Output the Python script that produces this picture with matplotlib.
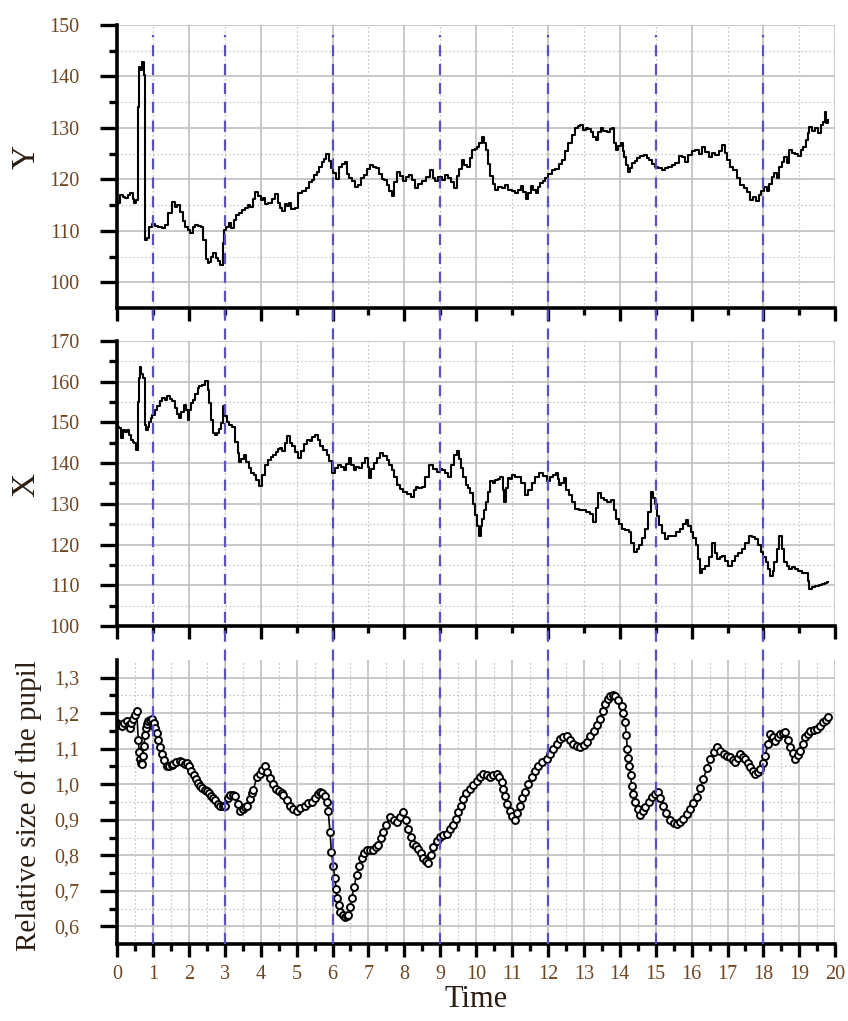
"""
Eye tracking: Y / X position and relative pupil size over time
"""
import matplotlib.pyplot as plt
from matplotlib.ticker import FixedLocator, FuncFormatter
from matplotlib.lines import Line2D
from matplotlib.transforms import blended_transform_factory

plt.rcParams['font.family'] = ['Liberation Serif', 'DejaVu Serif']

# Y coordinate of the gaze
y_time = [
    0.00, 0.04, 0.13, 0.20, 0.27, 0.34, 0.41, 0.46, 0.50, 0.57, 0.59, 0.62, 0.66, 0.71, 0.77,
    0.80, 0.87, 0.92, 1.01, 1.10, 1.20, 1.30, 1.38, 1.48, 1.57, 1.65, 1.71, 1.80, 1.87, 1.94,
    2.01, 2.08, 2.15, 2.22, 2.30, 2.36, 2.45, 2.50, 2.54, 2.59, 2.64, 2.73, 2.78, 2.82, 2.92,
    2.96, 3.01, 3.08, 3.15, 3.22, 3.29, 3.36, 3.43, 3.52, 3.61, 3.68, 3.75, 3.82, 3.89, 3.96,
    4.04, 4.10, 4.16, 4.26, 4.35, 4.44, 4.50, 4.56, 4.63, 4.70, 4.76, 4.81, 4.90, 5.00, 5.09,
    5.20, 5.32, 5.39, 5.46, 5.53, 5.60, 5.67, 5.74, 5.80, 5.86, 5.92, 5.97, 6.05, 6.13, 6.21,
    6.30, 6.39, 6.44, 6.49, 6.60, 6.68, 6.76, 6.83, 6.90, 7.00, 7.09, 7.18, 7.27, 7.34, 7.41,
    7.48, 7.55, 7.62, 7.69, 7.76, 7.83, 7.92, 8.02, 8.09, 8.16, 8.25, 8.34, 8.44, 8.53, 8.65,
    8.76, 8.83, 8.90, 9.00, 9.09, 9.18, 9.27, 9.34, 9.41, 9.50, 9.57, 9.64, 9.71, 9.78, 9.85,
    9.92, 10.00, 10.06, 10.12, 10.18, 10.24, 10.29, 10.36, 10.43, 10.50, 10.57, 10.66, 10.76,
    10.85, 10.94, 11.04, 11.13, 11.20, 11.27, 11.34, 11.41, 11.48, 11.55, 11.62, 11.69, 11.76,
    11.82, 11.90, 11.96, 12.06, 12.15, 12.25, 12.34, 12.43, 12.52, 12.62, 12.71, 12.80, 12.87,
    12.94, 13.01, 13.08, 13.15, 13.22, 13.29, 13.36, 13.43, 13.50, 13.59, 13.68, 13.75, 13.82,
    13.87, 13.92, 13.99, 14.06, 14.10, 14.15, 14.20, 14.26, 14.32, 14.38, 14.45, 14.52, 14.62,
    14.71, 14.78, 14.85, 14.94, 15.03, 15.12, 15.22, 15.31, 15.40, 15.50, 15.59, 15.68, 15.77,
    15.86, 15.96, 16.05, 16.15, 16.24, 16.33, 16.42, 16.52, 16.60, 16.70, 16.80, 16.89, 16.96,
    17.03, 17.12, 17.21, 17.30, 17.40, 17.49, 17.58, 17.67, 17.77, 17.84, 17.91, 17.98, 18.05,
    18.12, 18.19, 18.26, 18.33, 18.40, 18.47, 18.54, 18.61, 18.68, 18.75, 18.84, 18.93, 19.00,
    19.07, 19.14, 19.21, 19.26, 19.30, 19.39, 19.49, 19.56, 19.63, 19.68, 19.72, 19.77, 19.81,
]
y_pos = [
    115.0, 115.4, 117.0, 116.5, 116.3, 117.0, 117.3, 116.2, 115.4, 116.0, 134.0, 141.8, 141.2, 142.8, 140.2,
    108.3, 108.6, 110.8, 111.4, 110.9, 110.8, 110.5, 111.2, 113.4, 115.7, 114.6, 115.0, 113.7, 112.0, 110.8,
    110.2, 109.5, 110.8, 111.2, 111.0, 110.8, 108.3, 104.5, 103.7, 104.0, 105.0, 105.7, 104.8, 104.1, 103.4,
    107.6, 110.2, 110.8, 111.5, 110.5, 112.1, 113.0, 113.4, 114.0, 114.4, 115.0, 114.7, 116.2, 117.6, 116.8,
    115.9, 116.4, 115.3, 115.4, 116.1, 117.2, 115.5, 114.4, 113.9, 115.2, 114.8, 115.5, 114.3, 114.5, 117.4,
    117.8, 118.3, 119.5, 119.9, 120.8, 121.5, 122.5, 123.4, 124.0, 125.0, 123.5, 122.2, 121.2, 120.0, 122.5,
    122.9, 123.4, 121.0, 120.2, 119.6, 118.5, 119.0, 120.2, 120.9, 122.0, 122.8, 122.4, 122.2, 121.0, 120.0,
    119.8, 119.0, 117.8, 116.8, 119.5, 121.5, 120.6, 119.6, 120.5, 120.9, 119.8, 118.3, 119.2, 119.6, 120.5,
    121.8, 120.2, 119.6, 120.4, 119.9, 120.8, 120.2, 119.4, 118.3, 120.6, 122.0, 123.8, 122.8, 122.5, 124.2,
    125.7, 126.0, 126.3, 127.0, 128.2, 127.0, 125.7, 123.0, 120.6, 119.2, 118.0, 118.6, 118.3,
    118.9, 118.0, 117.8, 117.4, 118.0, 118.7, 117.5, 116.1, 117.4, 118.7, 118.0, 117.4, 118.5,
    119.3, 119.6, 120.2, 121.0, 121.8, 122.1, 123.0, 123.7, 125.5, 127.0, 128.6, 129.9, 130.4,
    130.5, 129.6, 129.9, 129.7, 129.2, 128.2, 127.6, 129.3, 129.9, 129.5, 129.2, 129.8, 129.9,
    127.0, 125.7, 126.5, 127.0, 125.5, 124.4, 122.8, 121.5, 122.3, 123.1, 123.6, 124.1, 124.5,
    124.7, 124.2, 123.7, 123.0, 122.5, 122.2, 121.8, 122.2, 122.5, 122.8, 123.1, 124.6, 124.4,
    123.4, 124.7, 125.5, 125.7, 125.0, 126.3, 125.4, 124.4, 125.2, 124.7, 125.6, 126.6, 125.2,
    123.7, 122.5, 121.8, 120.2, 118.9, 118.3, 117.6, 116.0, 116.6, 115.8, 117.0, 117.8, 118.6,
    117.8, 119.2, 120.5, 121.2, 120.3, 122.5, 123.4, 124.4, 123.2, 125.7, 125.2, 125.0, 124.6,
    125.7, 126.3, 127.6, 129.0, 130.2, 129.5, 129.9, 129.0, 130.5, 131.2, 133.1, 131.0, 131.5,
]

# X coordinate of the gaze
x_time = [
    0.00, 0.04, 0.08, 0.13, 0.20, 0.26, 0.32, 0.36, 0.41, 0.46, 0.50, 0.57, 0.60, 0.62, 0.66,
    0.70, 0.75, 0.80, 0.84, 0.88, 0.92, 0.96, 1.01, 1.08, 1.15, 1.22, 1.29, 1.36, 1.43, 1.50,
    1.57, 1.64, 1.70, 1.75, 1.82, 1.89, 1.94, 1.99, 2.04, 2.08, 2.15, 2.22, 2.27, 2.31, 2.40,
    2.50, 2.55, 2.59, 2.64, 2.68, 2.75, 2.82, 2.88, 2.92, 2.98, 3.05, 3.10, 3.15, 3.24, 3.33,
    3.38, 3.43, 3.50, 3.57, 3.63, 3.70, 3.77, 3.84, 3.92, 4.01, 4.08, 4.16, 4.24, 4.31, 4.38,
    4.45, 4.52, 4.58, 4.63, 4.70, 4.77, 4.84, 4.91, 5.00, 5.09, 5.16, 5.24, 5.32, 5.40, 5.48,
    5.56, 5.63, 5.70, 5.79, 5.88, 5.95, 6.02, 6.10, 6.21, 6.28, 6.35, 6.42, 6.49, 6.56, 6.62,
    6.70, 6.76, 6.86, 6.95, 7.00, 7.04, 7.11, 7.18, 7.28, 7.37, 7.46, 7.55, 7.62, 7.69, 7.76,
    7.83, 7.92, 8.02, 8.14, 8.25, 8.30, 8.34, 8.44, 8.53, 8.64, 8.76, 8.85, 8.95, 9.02, 9.09,
    9.18, 9.27, 9.34, 9.41, 9.50, 9.55, 9.60, 9.67, 9.74, 9.80, 9.87, 9.94, 10.01, 10.06, 10.11,
    10.15, 10.20, 10.25, 10.29, 10.36, 10.43, 10.50, 10.57, 10.64, 10.71, 10.76, 10.80, 10.85,
    10.90, 10.96, 11.03, 11.12, 11.22, 11.30, 11.41, 11.50, 11.59, 11.70, 11.82, 11.92, 12.01,
    12.10, 12.20, 12.25, 12.30, 12.34, 12.41, 12.48, 12.55, 12.62, 12.70, 12.80, 12.90, 12.99,
    13.10, 13.22, 13.31, 13.38, 13.43, 13.51, 13.59, 13.70, 13.82, 13.88, 13.92, 14.01, 14.10,
    14.20, 14.29, 14.36, 14.43, 14.50, 14.57, 14.66, 14.75, 14.82, 14.89, 14.95, 15.01, 15.06,
    15.12, 15.22, 15.31, 15.40, 15.50, 15.62, 15.73, 15.80, 15.87, 15.94, 16.01, 16.08, 16.15,
    16.20, 16.24, 16.33, 16.42, 16.52, 16.61, 16.68, 16.75, 16.82, 16.89, 16.98, 17.07, 17.16,
    17.26, 17.35, 17.45, 17.54, 17.63, 17.72, 17.82, 17.89, 17.96, 18.03, 18.10, 18.16, 18.23,
    18.28, 18.33, 18.40, 18.47, 18.54, 18.61, 18.68, 18.75, 18.84, 18.93, 19.02, 19.12, 19.21,
    19.26, 19.30, 19.40, 19.49, 19.58, 19.67, 19.74, 19.81,
]
x_pos = [
    150.1, 149.0, 148.6, 146.1, 148.2, 147.6, 148.2, 147.0, 145.7, 145.2, 144.9, 143.2, 155.0, 161.0, 163.5,
    162.0, 161.0, 149.4, 148.2, 149.0, 150.2, 151.0, 151.9, 153.0, 154.0, 155.2, 156.0, 155.5, 156.4, 155.8,
    155.2, 153.5, 152.0, 151.1, 152.5, 154.4, 153.0, 150.7, 153.0, 154.8, 155.5, 156.9, 158.5, 158.9, 159.2,
    160.2, 158.0, 154.8, 150.5, 147.4, 147.0, 147.4, 148.5, 149.8, 154.0, 151.5, 150.0, 149.4, 149.0, 145.3,
    142.5, 140.3, 141.0, 142.0, 140.2, 138.7, 137.5, 137.0, 135.8, 134.5, 137.0, 139.6, 140.8, 141.6, 142.0,
    142.8, 143.5, 143.7, 143.0, 145.0, 146.6, 145.0, 144.1, 142.8, 141.2, 143.0, 144.8, 145.8, 145.5, 146.3,
    147.0, 145.6, 144.1, 143.2, 142.1, 140.5, 137.5, 138.8, 139.6, 139.0, 138.3, 139.8, 141.2, 139.5, 138.3,
    139.0, 138.8, 140.0, 141.2, 139.0, 136.3, 138.5, 140.0, 141.3, 142.5, 141.8, 140.8, 139.6, 138.3, 136.5,
    134.6, 133.6, 133.0, 132.3, 131.7, 133.5, 134.2, 133.8, 134.2, 136.5, 139.6, 138.5, 137.9, 138.5, 138.3,
    137.5, 136.7, 139.5, 142.1, 142.9, 141.0, 138.8, 136.5, 134.6, 133.8, 132.6, 130.0, 127.2, 124.5, 122.2,
    124.5, 126.4, 128.5, 130.5, 133.0, 135.5, 135.0, 135.9, 136.2, 136.7, 133.5, 130.5, 134.0,
    136.3, 136.0, 137.1, 136.5, 136.7, 135.0, 132.1, 133.5, 135.0, 136.5, 137.5, 136.8, 135.5,
    136.5, 137.1, 137.5, 136.0, 134.6, 135.0, 136.3, 133.5, 132.1, 130.5, 128.8, 128.6, 128.4,
    128.0, 127.6, 125.5, 129.0, 132.6, 131.5, 130.9, 130.5, 130.9, 128.5, 126.4, 125.0, 123.9,
    123.5, 123.1, 120.5, 118.1, 119.0, 119.8, 121.5, 123.9, 128.0, 133.0, 131.5, 130.0, 127.0,
    124.7, 122.8, 121.4, 122.0, 122.2, 123.0, 123.9, 125.0, 126.0, 124.5, 123.1, 121.5, 119.8,
    116.5, 113.1, 114.0, 114.8, 117.0, 120.4, 118.0, 116.4, 117.0, 117.3, 116.0, 114.8, 116.0,
    117.3, 118.0, 118.9, 120.5, 122.2, 121.8, 121.4, 120.0, 118.1, 117.0, 115.6, 114.0, 112.3,
    113.5, 115.6, 119.0, 122.2, 119.0, 115.6, 114.8, 114.0, 114.5, 114.0, 113.5, 113.1, 113.1,
    111.0, 109.0, 109.5, 109.8, 110.0, 110.2, 110.5, 110.7,
]

# relative size of the pupil
pupil_time = [
    0.00, 0.07, 0.13, 0.20, 0.27, 0.32, 0.36, 0.40, 0.45, 0.50, 0.55, 0.59, 0.62, 0.64, 0.67,
    0.69, 0.72, 0.75, 0.78, 0.80, 0.84, 0.87, 0.92, 0.97, 1.02, 1.06, 1.10, 1.15, 1.20, 1.24,
    1.30, 1.38, 1.45, 1.52, 1.57, 1.65, 1.75, 1.82, 1.88, 1.94, 2.00, 2.07, 2.13, 2.20, 2.26,
    2.31, 2.38, 2.44, 2.50, 2.56, 2.62, 2.68, 2.74, 2.80, 2.87, 2.94, 3.01, 3.08, 3.15, 3.22,
    3.29, 3.36, 3.43, 3.50, 3.56, 3.61, 3.70, 3.76, 3.80, 3.89, 3.98, 4.05, 4.12, 4.19, 4.26,
    4.35, 4.44, 4.52, 4.58, 4.63, 4.72, 4.81, 4.90, 5.00, 5.10, 5.23, 5.32, 5.42, 5.52, 5.60,
    5.65, 5.72, 5.79, 5.84, 5.88, 5.93, 5.97, 6.02, 6.07, 6.10, 6.13, 6.17, 6.21, 6.28, 6.35,
    6.40, 6.44, 6.49, 6.53, 6.60, 6.67, 6.74, 6.81, 6.88, 6.95, 7.05, 7.14, 7.20, 7.27, 7.34,
    7.41, 7.50, 7.60, 7.70, 7.79, 7.88, 7.97, 8.04, 8.11, 8.18, 8.25, 8.32, 8.39, 8.46, 8.53,
    8.60, 8.67, 8.74, 8.81, 8.90, 8.99, 9.08, 9.18, 9.27, 9.36, 9.43, 9.50, 9.57, 9.64, 9.73,
    9.83, 9.92, 10.01, 10.10, 10.20, 10.30, 10.39, 10.48, 10.57, 10.64, 10.71, 10.76, 10.80,
    10.87, 10.94, 11.01, 11.08, 11.15, 11.22, 11.29, 11.36, 11.45, 11.55, 11.64, 11.73, 11.84,
    11.96, 12.05, 12.15, 12.25, 12.34, 12.43, 12.52, 12.62, 12.71, 12.80, 12.89, 12.99, 13.08,
    13.18, 13.27, 13.36, 13.45, 13.52, 13.59, 13.66, 13.73, 13.80, 13.87, 13.96, 14.05, 14.10,
    14.15, 14.18, 14.21, 14.24, 14.27, 14.30, 14.33, 14.38, 14.43, 14.50, 14.57, 14.64, 14.71,
    14.80, 14.89, 14.97, 15.05, 15.13, 15.21, 15.30, 15.40, 15.50, 15.59, 15.68, 15.77, 15.86,
    15.96, 16.05, 16.14, 16.24, 16.33, 16.42, 16.52, 16.61, 16.70, 16.80, 16.89, 16.98, 17.07,
    17.14, 17.21, 17.28, 17.35, 17.42, 17.49, 17.56, 17.63, 17.70, 17.77, 17.84, 17.91, 17.98,
    18.05, 18.12, 18.19, 18.26, 18.33, 18.40, 18.47, 18.54, 18.60, 18.67, 18.74, 18.81, 18.88,
    18.95, 19.02, 19.09, 19.16, 19.23, 19.30, 19.40, 19.49, 19.58, 19.67, 19.74, 19.81,
]
pupil_size = [
    1.173, 1.168, 1.164, 1.172, 1.178, 1.168, 1.159, 1.172, 1.183, 1.195, 1.206, 1.126, 1.090, 1.070, 1.060,
    1.056, 1.080, 1.107, 1.140, 1.159, 1.170, 1.178, 1.181, 1.183, 1.172, 1.159, 1.145, 1.126, 1.105, 1.084,
    1.068, 1.051, 1.052, 1.054, 1.056, 1.062, 1.065, 1.064, 1.058, 1.060, 1.050, 1.038, 1.027, 1.015, 1.003,
    0.995, 0.990, 0.985, 0.980, 0.975, 0.968, 0.962, 0.955, 0.945, 0.938, 0.940, 0.938, 0.960, 0.971, 0.969,
    0.966, 0.945, 0.924, 0.930, 0.935, 0.938, 0.959, 0.975, 0.985, 1.020, 1.030, 1.040, 1.052, 1.035, 1.018,
    1.000, 0.988, 0.982, 0.975, 0.970, 0.955, 0.940, 0.930, 0.925, 0.932, 0.940, 0.946, 0.950, 0.962, 0.972,
    0.978, 0.974, 0.968, 0.950, 0.926, 0.865, 0.809, 0.770, 0.735, 0.705, 0.679, 0.660, 0.641, 0.632, 0.627,
    0.628, 0.632, 0.655, 0.679, 0.710, 0.744, 0.770, 0.791, 0.805, 0.814, 0.814, 0.816, 0.822, 0.828, 0.848,
    0.865, 0.885, 0.907, 0.900, 0.893, 0.908, 0.921, 0.900, 0.875, 0.852, 0.833, 0.826, 0.819, 0.805, 0.791,
    0.783, 0.777, 0.800, 0.823, 0.840, 0.851, 0.856, 0.861, 0.873, 0.884, 0.902, 0.921, 0.940, 0.959, 0.974,
    0.987, 0.998, 1.010, 1.020, 1.029, 1.025, 1.020, 1.025, 1.029, 1.020, 1.006, 0.988, 0.968,
    0.945, 0.926, 0.910, 0.898, 0.918, 0.940, 0.960, 0.978, 1.000, 1.020, 1.036, 1.052, 1.062,
    1.071, 1.085, 1.099, 1.112, 1.127, 1.132, 1.136, 1.125, 1.113, 1.108, 1.104, 1.110, 1.118,
    1.135, 1.150, 1.166, 1.183, 1.205, 1.225, 1.240, 1.249, 1.250, 1.249, 1.236, 1.221, 1.200,
    1.174, 1.140, 1.099, 1.075, 1.052, 1.025, 0.996, 0.972, 0.950, 0.930, 0.912, 0.925, 0.936,
    0.950, 0.964, 0.972, 0.978, 0.960, 0.940, 0.918, 0.898, 0.892, 0.889, 0.895, 0.903, 0.916,
    0.931, 0.948, 0.964, 0.990, 1.015, 1.045, 1.071, 1.090, 1.104, 1.094, 1.085, 1.080, 1.076,
    1.068, 1.062, 1.075, 1.085, 1.078, 1.071, 1.060, 1.048, 1.038, 1.029, 1.035, 1.043, 1.060,
    1.080, 1.112, 1.141, 1.132, 1.122, 1.132, 1.141, 1.144, 1.146, 1.125, 1.104, 1.088, 1.071,
    1.082, 1.094, 1.113, 1.132, 1.141, 1.150, 1.152, 1.155, 1.165, 1.174, 1.180, 1.188,
]

# moments marked by the dashed vertical lines
event_times = [1, 3, 6, 9, 12, 15, 18]

TICK_COLOR = '#6e4620'
LABEL_COLOR = '#2b1d12'
GRID_COLOR = '#c4c4c4'
EVENT_COLOR = '#5b50c0'


def style_axes(ax, ylim, y_major, y_minor, x_major, x_minor):
    """
    Common look of the three panels: thick left/bottom spines, grid
    """
    ax.set_xlim(0, 20)
    ax.set_ylim(*ylim)
    for side in ('top', 'right'):
        ax.spines[side].set_visible(False)
    for side in ('left', 'bottom'):
        ax.spines[side].set_linewidth(2.6)
    ax.yaxis.set_major_locator(FixedLocator(y_major))
    ax.yaxis.set_minor_locator(FixedLocator(y_minor))
    ax.xaxis.set_major_locator(FixedLocator(x_major))
    ax.xaxis.set_minor_locator(FixedLocator(x_minor))
    ax.tick_params(axis='y', which='major', direction='out', length=12, width=2.4,
                   pad=15, labelsize=14.5, labelcolor=TICK_COLOR)
    ax.tick_params(axis='y', which='minor', direction='out', length=6, width=2.4)
    ax.tick_params(axis='x', which='major', direction='out', length=9, width=2.4,
                   pad=6, labelsize=14.5, labelcolor=TICK_COLOR)
    ax.tick_params(axis='x', which='minor', direction='out', length=5, width=2.4)
    ax.set_axisbelow(True)
    ax.grid(which='major', color=GRID_COLOR, linewidth=1.3, linestyle='-')
    ax.grid(which='minor', color='#b4b4b4', linewidth=0.9, linestyle=(0, (1, 2.2)))
    # no grid lines on the open top and right edges
    for tick in ax.xaxis.get_major_ticks():
        if tick.get_loc() >= 20:
            tick.gridline.set_visible(False)
    for tick in ax.yaxis.get_major_ticks():
        if tick.get_loc() >= ylim[1]:
            tick.gridline.set_visible(False)


fig = plt.figure(figsize=(8.48, 10.21), dpi=100)
left, width = 0.138, 0.847
ax_y = fig.add_axes([left, 0.6983, width, 0.2772])
ax_x = fig.add_axes([left, 0.3869, width, 0.2791])
ax_p = fig.add_axes([left, 0.0754, width, 0.2782])

even = list(range(0, 21, 2))
odd = list(range(1, 20, 2))

# Y panel
style_axes(ax_y, (95, 150), list(range(100, 151, 10)), list(range(105, 150, 10)), even, odd)
ax_y.plot(y_time, y_pos, color='black', linewidth=1.5, drawstyle='steps-mid')
ax_y.tick_params(axis='x', labelbottom=False)
ax_y.set_ylabel('Y', fontsize=24, color=LABEL_COLOR)
ax_y.yaxis.set_label_coords(-0.105, 0.534)

# X panel
style_axes(ax_x, (100, 170), list(range(100, 171, 10)), list(range(105, 170, 10)), even, odd)
ax_x.plot(x_time, x_pos, color='black', linewidth=1.5, drawstyle='steps-mid')
ax_x.tick_params(axis='x', labelbottom=False)
ax_x.set_ylabel('X', fontsize=24, color=LABEL_COLOR)
ax_x.yaxis.set_label_coords(-0.105, 0.495)

# pupil panel
p_major = [0.6, 0.7, 0.8, 0.9, 1.0, 1.1, 1.2, 1.3]
p_minor = [0.65, 0.75, 0.85, 0.95, 1.05, 1.15, 1.25]
style_axes(ax_p, (0.55, 1.35), p_major, p_minor, list(range(0, 21)),
           [i + 0.5 for i in range(20)])
ax_p.plot(pupil_time, pupil_size, color='black', linewidth=1.2, marker='o',
          markersize=5, markerfacecolor='white', markeredgecolor='black',
          markeredgewidth=1.4)
ax_p.yaxis.set_major_formatter(FuncFormatter(lambda v, pos: f"{v:.1f}".replace('.', ',')))
ax_p.set_ylabel('Relative size of the pupil', fontsize=21, color=LABEL_COLOR)
ax_p.yaxis.set_label_coords(-0.105, 0.489)
ax_p.set_xlabel('Time', fontsize=22, color=LABEL_COLOR)
ax_p.xaxis.set_label_coords(0.5, -0.145)

# dashed event lines running through all three panels
trans = blended_transform_factory(ax_p.transData, fig.transFigure)
for t in event_times:
    fig.add_artist(Line2D([t, t], [0.0754, 0.966], transform=trans, color=EVENT_COLOR,
                          linewidth=1.6, linestyle=(0, (5, 3.5)), zorder=3))

fig.savefig('out.png', dpi=100)
